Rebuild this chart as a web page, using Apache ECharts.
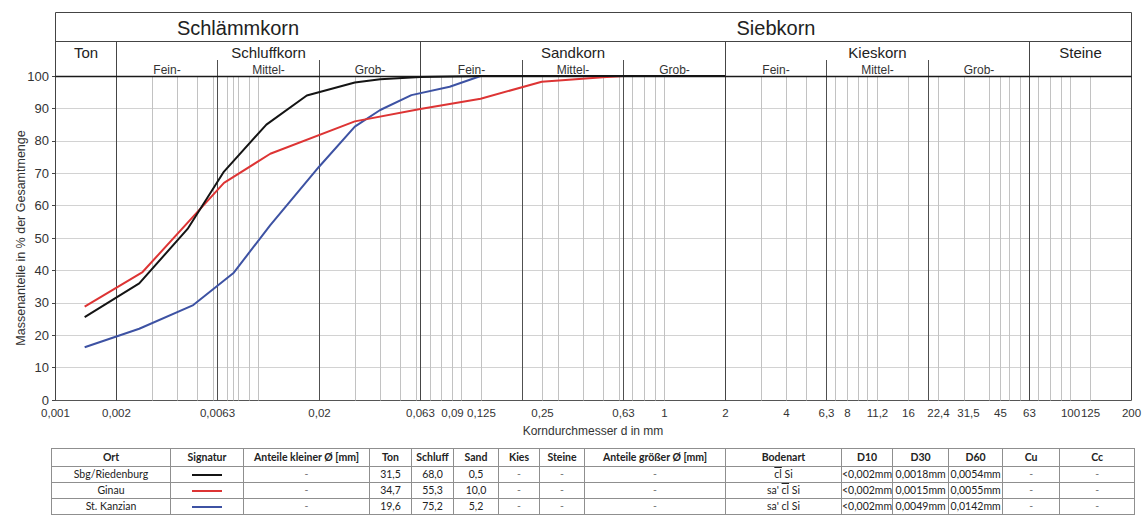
<!DOCTYPE html>
<html>
<head>
<meta charset="utf-8">
<script src="https://cdn.jsdelivr.net/npm/echarts@6/dist/echarts.min.js"></script>
<style>
  html, body { margin: 0; padding: 0; background: #fff; }
  #chart { position: absolute; left: 0; top: 0; width: 1146px; height: 516px; }
  #tbl { position: absolute; left: 51px; top: 448px; border-collapse: collapse; table-layout: fixed;
         font-family: Lato, "Open Sans", "Liberation Sans", sans-serif; font-size: 10.5px; color: #222; }
  #tbl td, #tbl th { border: 1px solid #8f8f8f; padding: 0; text-align: center; white-space: nowrap;
                     overflow: hidden; height: 15px; line-height: 15px; }
  #tbl th { font-weight: bold; height: 17px; line-height: 17px; }
  #tbl td.dash { color: #777; }
  .sig { display: inline-block; width: 30px; height: 2px; vertical-align: middle; }
  .ol { text-decoration: overline; }
</style>
</head>
<body>
<div id="chart"></div>
<table id="tbl"></table>
<script>
// ---- grain size axis (mm) ----
const xMin = 0.001;
const xMax = 200;
const tickValues = [0.001, 0.002, 0.0063, 0.02, 0.063, 0.09, 0.125, 0.25, 0.63, 1, 2, 4, 6.3, 8,
                    11.2, 16, 22.4, 31.5, 45, 63, 100, 125, 200];
const minorLines = [0.003, 0.004, 0.005, 0.006, 0.007, 0.0075, 0.008, 0.009, 0.01,
                    0.03, 0.04, 0.05, 0.06, 0.07, 0.08, 0.09, 0.1, 0.125,
                    0.25, 0.3, 0.4, 0.5, 0.6, 0.7, 0.8, 0.9, 1,
                    3, 4, 5, 7, 8, 9, 10, 11.2, 16,
                    22.4, 30, 40, 45, 50, 57, 70, 80, 90, 100, 125];
const fractionBounds = [0.0063, 0.02, 0.2, 0.63, 6.3, 20];
const groupBounds = [0.002, 0.063, 2, 63];

// ---- header classification ----
const headerTop = [['Schlämmkorn', 0.001, 0.063], ['Siebkorn', 0.063, 200]];
const headerGroups = [['Ton', 0.001, 0.002], ['Schluffkorn', 0.002, 0.063], ['Sandkorn', 0.063, 2],
                      ['Kieskorn', 2, 63], ['Steine', 63, 200]];
const fractionNames = ['Fein-', 'Mittel-', 'Grob-'];
const fractionRanges = [[0.002, 0.0063, 0.02, 0.063], [0.063, 0.2, 0.63, 2], [2, 6.3, 20, 63]];

// ---- grading curves: diameter (mm) and passing (%) ----
const riedenburgD = [0.0014, 0.0026, 0.0045, 0.0068, 0.011, 0.0174, 0.03, 0.04, 0.063, 0.125, 2];
const riedenburgP = [25.6, 36.0, 52.8, 70.5, 85.0, 94.0, 98.0, 99.0, 99.7, 100, 100];
const ginauD = [0.0014, 0.0027, 0.0068, 0.0115, 0.03, 0.063, 0.125, 0.25, 0.5, 0.63, 2];
const ginauP = [28.8, 39.5, 67.0, 76.0, 86.0, 89.8, 93.0, 98.2, 99.6, 100, 100];
const kanzianD = [0.0014, 0.0026, 0.0048, 0.0076, 0.0115, 0.02, 0.03, 0.04, 0.057, 0.088, 0.125, 2];
const kanzianP = [16.3, 22.0, 29.3, 39.3, 54.0, 72.0, 84.4, 89.5, 94.1, 96.7, 100, 100];

// ---- table values ----
const sites = ['Sbg/Riedenburg', 'Ginau', 'St. Kanzian'];
const tonPct = ['31,5', '34,7', '19,6'];
const schluffPct = ['68,0', '55,3', '75,2'];
const sandPct = ['0,5', '10,0', '5,2'];
const soilTypes = ['[cl] Si', "sa' [cl] Si", "sa' cl Si"];
const d10 = ['<0,002mm', '<0,002mm', '<0,002mm'];
const d30 = ['0,0018mm', '0,0015mm', '0,0049mm'];
const d60 = ['0,0054mm', '0,0055mm', '0,0142mm'];
const tableHead = ['Ort', 'Signatur', 'Anteile kleiner Ø [mm]', 'Ton', 'Schluff', 'Sand', 'Kies', 'Steine',
                   'Anteile größer Ø [mm]', 'Bodenart', 'D10', 'D30', 'D60', 'Cu', 'Cc'];

const lineColors = ['#141414', '#dd3434', '#3d52a3'];
const colWidths = [119, 73, 126, 42, 42, 45, 41, 45, 141, 116, 50, 56, 54, 57, 75];

const fmt = v => String(v).replace('.', ',');
const FONT = '"Liberation Sans", Arial, sans-serif';

function pairs(d, p) { return d.map((x, i) => [x, p[i]]); }

// frame, classification header, vertical grid and tick labels
function renderFrame(params, api) {
  const y0 = api.coord([1, 0])[1];
  const y100 = api.coord([1, 100])[1];
  const X = v => Math.round(api.coord([v, 50])[0]) + 0.5;
  const top = Math.round(y100 - 64) + 0.5;
  const rowSplit = Math.round(y100 - 35) + 0.5;
  const subTop = Math.round(y100 - 16);
  const yb = Math.round(y0) + 0.5;
  const yt = Math.round(y100) + 0.5;
  const xa = X(xMin), xb = X(xMax);
  const kids = [];
  const line = (x1, y1, x2, y2, stroke, w) => kids.push({
    type: 'line', shape: { x1, y1, x2, y2 }, style: { stroke, lineWidth: w || 1 }, silent: true
  });
  const text = (t, x, y, size, color, align, va) => kids.push({
    type: 'text', x, y, silent: true,
    style: { text: t, fill: color || '#222', fontSize: size, fontFamily: FONT,
             align: align || 'center', verticalAlign: va || 'middle' }
  });

  minorLines.forEach(v => line(X(v), yb, X(v), yt, '#c2c2c2'));
  fractionBounds.forEach(v => line(X(v), yb, X(v), subTop, '#505050'));
  groupBounds.forEach(v => line(X(v), yb, X(v), rowSplit, '#454545'));

  line(xa, top, xb, top, '#444');
  line(xa, rowSplit, xb, rowSplit, '#444');
  line(xa, top, xa, yb, '#444');
  line(xb, top, xb, yb, '#444');
  line(xa, yt, xb, yt, '#1a1a1a', 1.3);

  headerTop.forEach(h => text(h[0], (X(h[1]) + X(h[2])) / 2, (top + rowSplit) / 2 + 1, 20, '#222'));
  headerGroups.forEach(h => text(h[0], (X(h[1]) + X(h[2])) / 2, rowSplit + 11, 15, '#222'));
  fractionRanges.forEach(r => {
    for (let i = 0; i < 3; i++) {
      text(fractionNames[i], (X(r[i]) + X(r[i + 1])) / 2, yt - 7, 12, '#333');
    }
  });
  tickValues.forEach(v => text(fmt(v), X(v), yb + 12, 11.5, '#333'));

  return { type: 'group', children: kids };
}

const chart = echarts.init(document.getElementById('chart'), null, { renderer: 'svg' });
chart.setOption({
  animation: false,
  backgroundColor: '#fff',
  grid: { left: 55, right: 15, top: 76, bottom: 116, containLabel: false, outerBoundsMode: 'none' },
  xAxis: {
    type: 'log', logBase: 10, min: xMin, max: xMax,
    name: 'Korndurchmesser d in mm', nameLocation: 'middle', nameGap: 25, nameMoveOverlap: false,
    nameTextStyle: { color: '#333', fontSize: 12, fontFamily: FONT },
    axisLine: { show: true, lineStyle: { color: '#555', width: 1 } },
    axisTick: { show: false },
    axisLabel: { show: false },
    splitLine: { show: false },
    minorTick: { show: false },
    minorSplitLine: { show: false }
  },
  yAxis: {
    type: 'value', min: 0, max: 100, interval: 10,
    name: 'Massenanteile in % der Gesamtmenge', nameLocation: 'middle', nameGap: 28, nameMoveOverlap: false,
    nameTextStyle: { color: '#333', fontSize: 12.5, fontFamily: FONT },
    axisLine: { show: true, lineStyle: { color: '#444' } },
    axisTick: { show: true, length: 3, lineStyle: { color: '#444' } },
    axisLabel: { color: '#333', fontSize: 13, fontFamily: FONT, margin: 6 },
    splitLine: { show: true, lineStyle: { color: '#d2d2d2', width: 1 } }
  },
  series: [
    {
      type: 'custom', name: 'frame', coordinateSystem: 'cartesian2d',
      renderItem: renderFrame, data: [[1, 50]], silent: true, clip: false, z: 1
    },
    {
      type: 'line', name: sites[2], data: pairs(kanzianD, kanzianP), showSymbol: false, symbol: 'none',
      lineStyle: { color: lineColors[2], width: 2 }, z: 3
    },
    {
      type: 'line', name: sites[1], data: pairs(ginauD, ginauP), showSymbol: false, symbol: 'none',
      lineStyle: { color: lineColors[1], width: 2 }, z: 4
    },
    {
      type: 'line', name: sites[0], data: pairs(riedenburgD, riedenburgP), showSymbol: false, symbol: 'none',
      lineStyle: { color: lineColors[0], width: 2 }, z: 5
    }
  ]
});

// summary table below the diagram
(function buildTable() {
  const esc = s => s.replace(/&/g, '&amp;').replace(/</g, '&lt;');
  const soil = s => esc(s).replace(/\[(.*?)\]/g, '<span class="ol">$1</span>');
  let html = '<colgroup>' + colWidths.map(w => '<col style="width:' + w + 'px">').join('') + '</colgroup>';
  html += '<tr>' + tableHead.map(h => '<th>' + esc(h) + '</th>').join('') + '</tr>';
  sites.forEach((s, i) => {
    html += '<tr>' +
      '<td>' + esc(s) + '</td>' +
      '<td><span class="sig" style="background-color:' + lineColors[i] + '"></span></td>' +
      '<td class="dash">-</td>' +
      '<td>' + tonPct[i] + '</td><td>' + schluffPct[i] + '</td><td>' + sandPct[i] + '</td>' +
      '<td class="dash">-</td><td class="dash">-</td><td class="dash">-</td>' +
      '<td>' + soil(soilTypes[i]) + '</td>' +
      '<td>' + esc(d10[i]) + '</td><td>' + d30[i] + '</td><td>' + d60[i] + '</td>' +
      '<td class="dash">-</td><td class="dash">-</td>' +
      '</tr>';
  });
  document.getElementById('tbl').innerHTML = html;
})();
</script>
</body>
</html>
